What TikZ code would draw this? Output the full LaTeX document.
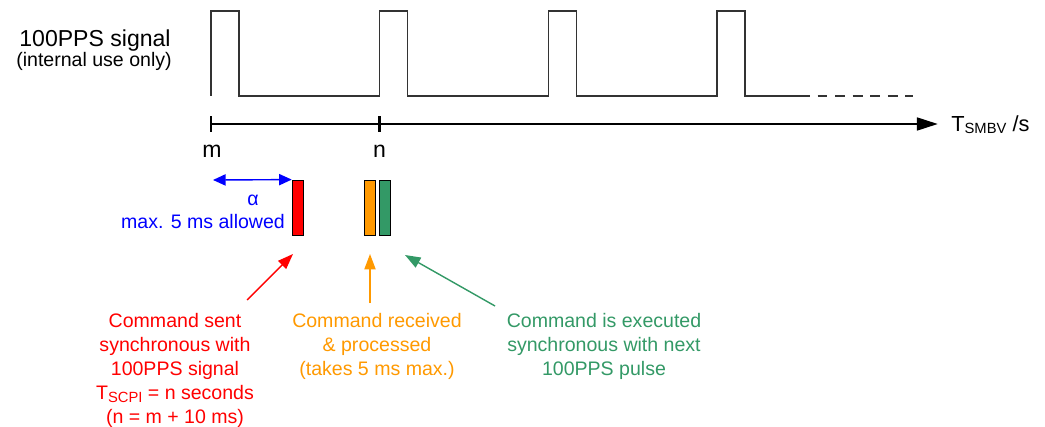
\documentclass[tikz,border=0pt]{standalone}
\usepackage{fontspec}
\setmainfont{Liberation Sans}
\usetikzlibrary{arrows.meta, positioning, calc}
\definecolor{sentred}{RGB}{255, 0, 0}
\definecolor{recvorange}{RGB}{255, 153, 0}
\definecolor{execgreen}{RGB}{51, 153, 102}
\definecolor{allowblue}{RGB}{0, 0, 255}
\newcommand{\bigtext}{\fontsize{16.4}{19}\selectfont}
\newcommand{\midtext}{\fontsize{13.9}{16.9}\selectfont}
\newcommand{\lowsub}[2]{\raisebox{-#1}{\fontsize{10.5}{12}\selectfont #2}}

\begin{document}
\begin{tikzpicture}[
    x=0.025cm, y=-0.025cm,
    pulse/.style={line width=1pt, draw=black!80},
    axis/.style={line width=2pt, -{Triangle[length=15pt,width=9pt]}},
    tickmark/.style={line width=2pt},
    bar/.style={rectangle, draw=black, line width=0.9pt, minimum width=8pt, minimum height=39.5pt, inner sep=0pt},
    note/.style={align=center, inner sep=0pt, anchor=north, font=\midtext},
    pointer/.style={line width=1pt, -{Triangle[length=11pt,width=8pt]}},
    span/.style={line width=1pt, draw=allowblue, {Triangle[length=9pt,width=8pt]}-{Triangle[length=9pt,width=8pt]}}
]
\useasboundingbox (0,0) rectangle (1045,427);

% 100PPS pulse train
\draw [pulse] (211,96) foreach \i in {0,1,2} { -- ++(0,-85) -- ++(28,0) -- ++(0,85) -- ++(140.67,0) }
    -- ++(0,-85) -- ++(28,0) -- ++(0,85) -- (800,96);
\draw [pulse, dash pattern=on 7pt off 5.5pt] (800,96) -- (913,96);
\node (siglabel) [font=\bigtext, anchor=base, inner sep=0pt] at (95,46.7) {100PPS signal};
\node (signote) [font=\midtext, anchor=base, inner sep=0pt] at (94,66.7) {(internal use only)};

% Time axis
\coordinate (tm) at (211,124);
\coordinate (tn) at (379.5,124);
\coordinate (axisend) at (938,124);
\draw [axis] (tm) -- (axisend);
\draw [tickmark] ($(tm)+(0,-8)$) -- ($(tm)+(0,8)$);
\draw [tickmark] ($(tn)+(0,-8)$) -- ($(tn)+(0,8)$);
\node (mlabel) [font=\bigtext, anchor=base, inner sep=0pt] at (212,157) {m};
\node (nlabel) [font=\bigtext, anchor=base, inner sep=0pt] at (379.5,157) {n};
\node (axislabel) [font=\fontsize{15.5}{18}\selectfont, anchor=base west, inner sep=0pt] at (951,131) {T\lowsub{2pt}{SMBV} /s};

% Command bars
\node (sentbar) [bar, fill=sentred] at (298,208) {};
\node (recvbar) [bar, fill=recvorange] at (370.2,208) {};
\node (execbar) [bar, fill=execgreen] at (385.2,208) {};

% Allowed offset
\coordinate (spanstart) at (213,180);
\draw [span] (spanstart) -- (sentbar.north west);
\node (alphalabel) [font=\midtext, text=allowblue, inner sep=0pt] at (253,200) {α};
\node (allowlabel) [font=\midtext, text=allowblue, inner sep=0pt] at (203,222) {max. 5 ms allowed};

% Explanations
\node (senttext) [note, text=sentred] at (175,313.5) {Command sent\\synchronous with\\100PPS signal\\T\lowsub{2.5pt}{SCPI} = n seconds\\(n = m + 10 ms)};
\node (recvtext) [note, text=recvorange] at (377,313.5) {Command received\\\& processed\\(takes 5 ms max.)};
\node (exectext) [note, text=execgreen] at (604,313.5) {Command is executed\\synchronous with next\\100PPS pulse};

% Pointers
\coordinate (sentfrom) at (247,300);
\coordinate (senttip) at (293,254);
\coordinate (recvfrom) at (370,303);
\coordinate (recvtip) at (370,254);
\coordinate (execfrom) at (495,306);
\coordinate (exectip) at (405,255);
\draw [pointer, draw=sentred, fill=sentred] (sentfrom) -- (senttip);
\draw [pointer, draw=recvorange, fill=recvorange] (recvfrom) -- (recvtip);
\draw [pointer, draw=execgreen, fill=execgreen] (execfrom) -- (exectip);

\end{tikzpicture}
\end{document}
